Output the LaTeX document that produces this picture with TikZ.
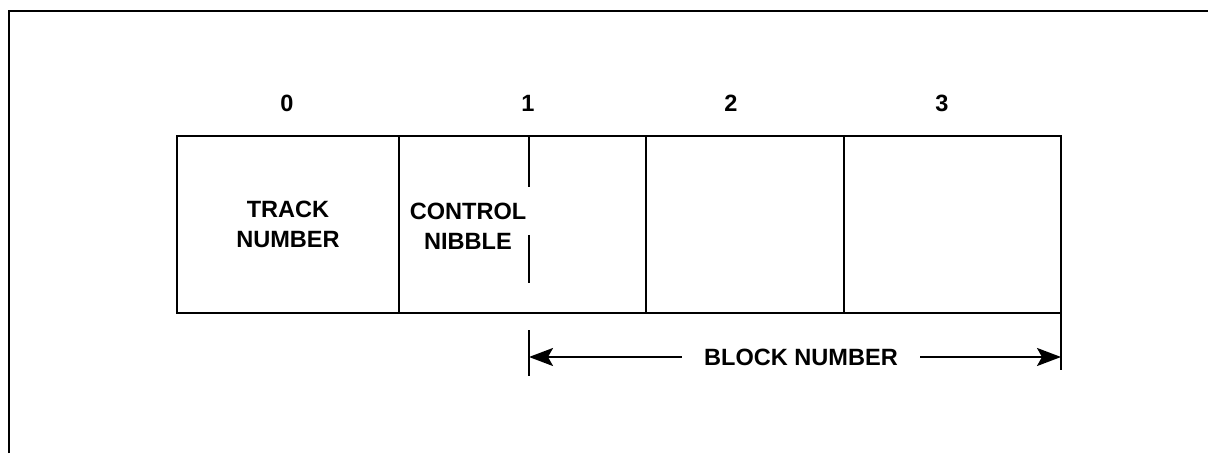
\documentclass[tikz,border=0pt]{standalone}
\usepackage{fontspec}
\setmainfont{Liberation Sans}
\usetikzlibrary{arrows.meta}
\tikzset{
  cell/.style={draw, line width=1.1pt, inner sep=0pt, minimum height=3.54cm},
  lbl/.style={font=\bfseries\fontsize{13.4}{17}\selectfont, align=center, inner sep=0pt},
  dim/.style={line width=1.2pt, -{Stealth[length=0.48cm,width=0.36cm,inset=0.1cm]}}
}
\begin{document}
\begin{tikzpicture}[x=1cm,y=1cm]
\useasboundingbox (0,0) rectangle (24.16,9.06);
% frame
\draw[line width=1.1pt] (0.18,0) -- (0.18,8.84) -- (24.16,8.84);
% cells
\node[cell, minimum width=4.44cm] (trk) at (5.76,4.57) {};
\node[cell, minimum width=4.94cm] (cl1) at (10.45,4.57) {};
\node[cell, minimum width=3.96cm] (cl2) at (14.90,4.57) {};
\node[cell, minimum width=4.34cm] (cl3) at (19.05,4.57) {};
\node[lbl] (trktxt) at (trk) {TRACK\\NUMBER};
\node[lbl] (ctl) at (9.36,4.54) {CONTROL\\NIBBLE};
% split of nibble and block
\draw[line width=1.1pt] (10.58,6.34) -- (10.58,5.32);
\draw[line width=1.1pt] (10.58,4.36) -- (10.58,3.40);
% byte numbers
\node[lbl] (n0) at (5.74,7.00) {0};
\node[lbl] (n1) at (10.56,7.00) {1};
\node[lbl] (n2) at (14.62,7.00) {2};
\node[lbl] (n3) at (18.84,7.00) {3};
% block number span
\coordinate (bl) at (10.58,1.92);
\coordinate (br) at (21.22,1.92);
\draw[line width=1.1pt] (10.58,2.46) -- (10.58,1.54);
\draw[line width=1.1pt] (21.22,2.80) -- (21.22,1.66);
\node[lbl, inner xsep=0.44cm] (blk) at (16.02,1.92) {BLOCK NUMBER};
\draw[dim] (blk.west) -- (bl);
\draw[dim] (blk.east) -- (br);
\end{tikzpicture}
\end{document}
